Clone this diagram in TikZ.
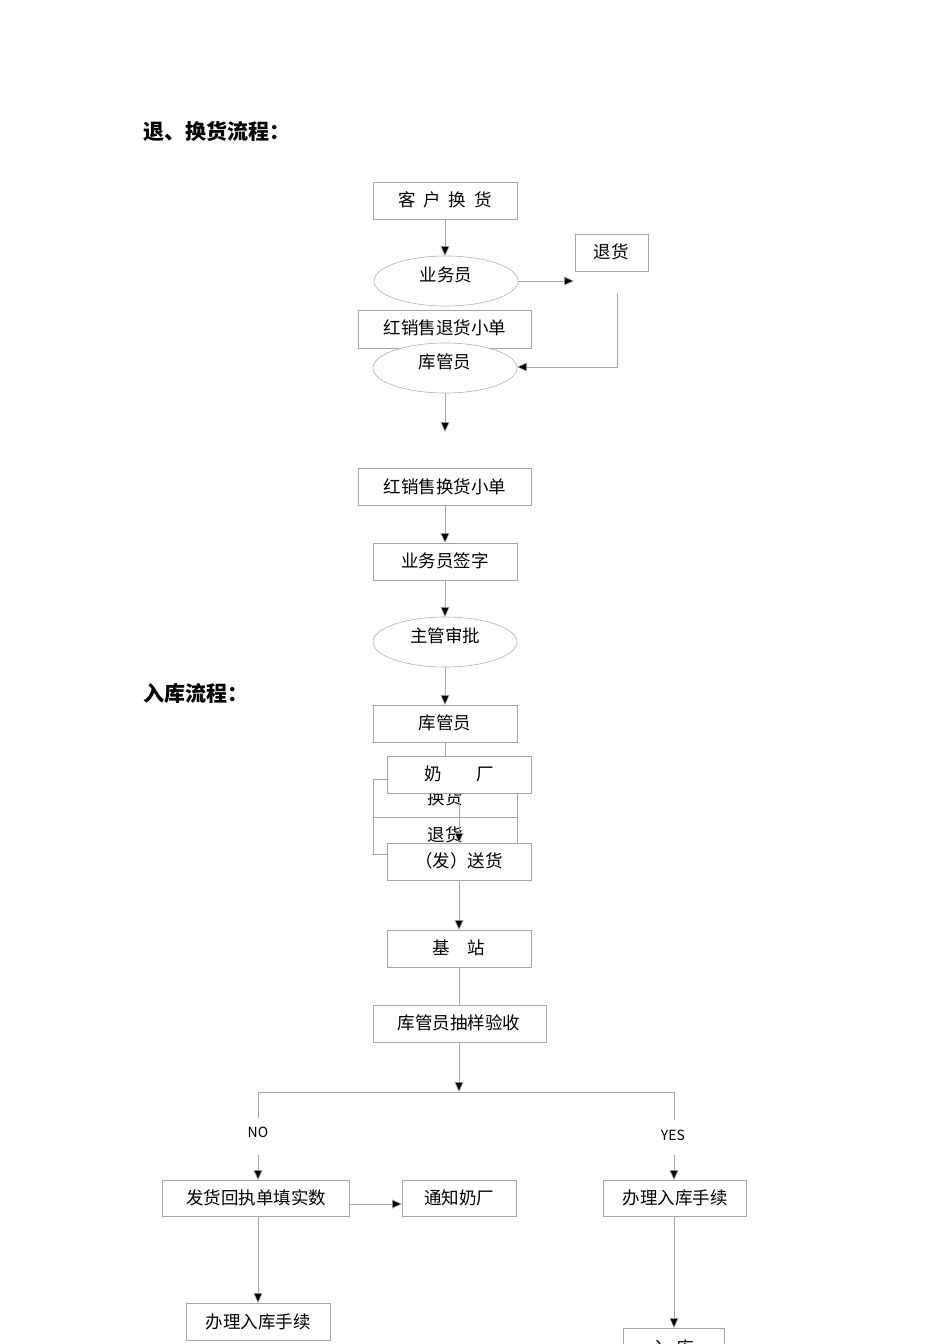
\documentclass[tikz,border=0pt]{standalone}
\usepackage{fontspec}
\setmainfont{Noto Sans CJK SC}
\usetikzlibrary{arrows.meta}
\begin{document}
\begin{tikzpicture}[x=1pt,y=-1pt,
 bx/.style={draw=gray!70,fill=white,line width=0.6pt},
 el/.style={draw=gray!60,line width=0.6pt},
 tx/.style={font=\fontsize{17.5}{20}\selectfont},
 ln/.style={draw=gray!70,line width=0.6pt},
 ar/.style={ln,-{Triangle[length=10pt,width=9pt,fill=black]}},
 tt/.style={font=\fontsize{21}{24}\selectfont\bfseries,anchor=west},
 lb/.style={font=\fontsize{14}{16}\selectfont}]
\useasboundingbox (0,0) rectangle (950,1344);
\node[tt] (t1) at (140,131) {退、换货流程：};
\node[tt] (t2) at (140,693) {入库流程：};
% return/exchange
\path[bx] (373,182) rectangle (517,219); \node[tx] (a) at (445,200) {客\ \ 户\ \ 换\ \ 货};
\path[bx] (575,234) rectangle (648,271); \node[tx] (th) at (611,252) {退货};
\draw[el] (446,281) ellipse (72 and 25); \node[tx] (ywy) at (446,275) {业务员};
\path[bx] (358,310) rectangle (531,348); \node[tx] (hx1) at (445,328) {红销售退货小单};
\draw[el,fill=white] (445,368) ellipse (72 and 25); \node[tx] (kgy1) at (445,362) {库管员};
\draw[ar] (445,219) -- (445,256);
\draw[ar] (518,281) -- (574,281);
\draw[ar] (617,293) -- (617,367) -- (517,367);
\coordinate (e1) at (445,432);
\draw[ar] (445,393) -- (e1);
\path[bx] (358,468) rectangle (531,505); \node[tx] (hx2) at (445,487) {红销售换货小单};
\path[bx] (373,543) rectangle (517,580); \node[tx] (qz) at (445,561) {业务员签字};
\draw[el] (445,642) ellipse (72 and 25); \node[tx] (zg) at (445,636) {主管审批};
\path[bx] (373,705) rectangle (517,742); \node[tx] (kgy2) at (445,723) {库管员};
\draw[ar] (445,505) -- (445,543);
\draw[ar] (445,580) -- (445,617);
\draw[ar] (445,667) -- (445,705);
\draw[ln] (445,742) -- (445,756);
\path[bx] (373,779) rectangle (517,817); \node[tx] (hh) at (445,798) {换货};
\path[bx] (373,817) rectangle (517,854); \node[tx] (tth) at (445,835) {退货};
% warehousing
\path[bx] (387,756) rectangle (531,793); \node[tx] (nc) at (459,774) {奶\qquad 厂};
\draw[ar] (459,793) -- (459,843);
\path[bx] (387,843) rectangle (531,880); \node[tx] (sh) at (459,861) {（发）送货};
\path[bx] (387,930) rectangle (531,967); \node[tx] (jz) at (459,948) {基\quad 站};
\draw[ar] (459,880) -- (459,930);
\draw[ln] (459,967) -- (459,1005);
\path[bx] (373,1005) rectangle (546,1042); \node[tx] (cy) at (459,1023) {库管员抽样验收};
\draw[ar] (459,1042) -- (459,1092);
\draw[ln] (258,1118) -- (258,1092) -- (674,1092) -- (674,1120);
\node[lb] (no) at (258,1132) {NO};
\node[lb] (yes) at (673,1135) {YES};
\draw[ar] (258,1155) -- (258,1180);
\draw[ar] (674,1155) -- (674,1180);
\path[bx] (162,1180) rectangle (349,1216); \node[tx] (fh) at (256,1198) {发货回执单填实数};
\path[bx] (402,1180) rectangle (516,1216); \node[tx] (tz) at (459,1198) {通知奶厂};
\path[bx] (603,1180) rectangle (746,1216); \node[tx] (bl1) at (675,1198) {办理入库手续};
\draw[ar] (349,1204) -- (402,1204);
\path[bx] (186,1303) rectangle (330,1340); \node[tx] (bl2) at (258,1322) {办理入库手续};
\draw[ar] (258,1216) -- (258,1303);
\draw[ar] (674,1216) -- (674,1328);
\path[bx] (623,1328) rectangle (724,1360); \node[tx] (rk) at (673,1348) {入\ \ 库};
\end{tikzpicture}
\end{document}
